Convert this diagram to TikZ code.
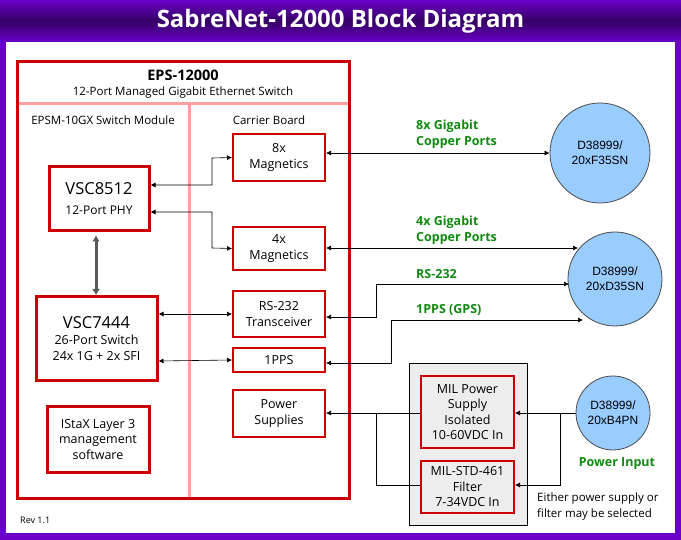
\documentclass[tikz,border=0pt]{standalone}
\usepackage{fontspec}
\setmainfont{Open Sans}
\newfontfamily\arialf{Liberation Sans}
\usetikzlibrary{arrows.meta}
\definecolor{pur}{HTML}{6A00C8}
\definecolor{dred}{HTML}{CC0000}
\definecolor{pink}{HTML}{FF9F9F}
\definecolor{grn}{HTML}{108A10}
\definecolor{cblue}{HTML}{99CCFF}
\begin{document}
\begin{tikzpicture}[x=1pt,y=-1pt,
  box/.style={draw=dred,line width=2pt,align=center,inner sep=0pt,font=\fontsize{12.5}{15.5}\selectfont},
  bbox/.style={draw=dred,line width=3pt,align=center,inner sep=0pt},
  conn/.style={draw=black,line width=0.6pt},
  arr/.style={conn,-{Latex[length=5pt,width=5pt]}},
  darr/.style={conn,{Latex[length=5pt,width=5pt]}-{Latex[length=5pt,width=5pt]}},
  circ/.style={circle,draw=black!70,fill=cblue,line width=0.8pt,align=center,inner sep=0pt,font=\arialf\fontsize{12}{15}\selectfont},
  glab/.style={text=grn,font=\bfseries\fontsize{12.5}{15}\selectfont,anchor=west,inner sep=0pt},
  lab/.style={font=\fontsize{11.5}{14}\selectfont,inner sep=0pt}]
\useasboundingbox (0,0) rectangle (681,540);
\fill[pur] (0,0) rectangle (681,540);
\shade[top color=pur,bottom color=pur,middle color=pur!50!black] (0,0) rectangle (681,42);
\fill[white] (6,42) rectangle (675,533);
\node[text=white,font=\bfseries\fontsize{24}{28}\selectfont] (title) at (340.5,21) {SabreNet-12000 Block Diagram};
% EPS box
\draw[pink,line width=3pt] (18,104) -- (348,104);
\draw[pink,line width=3pt] (189,104) -- (189,497);
\draw[dred,line width=3pt] (17,62) rectangle (349,498);
\node[font=\bfseries\fontsize{14.5}{17}\selectfont] (eps) at (183,75) {EPS-12000};
\node[lab] (epss) at (183,93) {12-Port Managed Gigabit Ethernet Switch};
\node[lab] (mod) at (103,120) {EPSM-10GX Switch Module};
\node[lab] (car) at (269,120) {Carrier Board};
% inner blocks
\node[bbox,minimum width=100,minimum height=64,font=\fontsize{12}{20}\selectfont] (p8512) at (99,199) {{\fontsize{16.5}{19}\selectfont VSC8512}\\12-Port PHY};
\node[bbox,minimum width=121,minimum height=84,font=\fontsize{12.5}{16}\selectfont] (p7444) at (96.5,339) {{\fontsize{16.5}{19}\selectfont VSC7444}\\26-Port Switch\\24x 1G + 2x SFI};
\node[bbox,minimum width=102,minimum height=65,font=\fontsize{12.5}{15.5}\selectfont] (istax) at (98,439.5) {IStaX Layer 3\\management\\software};
\draw[black!65,line width=3pt,{Latex[length=6pt,width=8pt]}-{Latex[length=6pt,width=8pt]}] (p8512.south -| 96,0) ++(0,3) -- (96,295) coordinate (c1);
\node[box,minimum width=92,minimum height=47] (m8) at (279,157.5) {8x\\Magnetics};
\node[box,minimum width=92,minimum height=43] (m4) at (279,248.5) {4x\\Magnetics};
\node[box,minimum width=92,minimum height=46] (rs) at (279,314) {RS-232\\Transceiver};
\node[box,minimum width=92,minimum height=24] (pps) at (279,360) {1PPS};
\node[box,minimum width=92,minimum height=47] (psu) at (279,413.5) {Power\\Supplies};
% connectors inside
\draw[darr] (150.5,185) -- (212,185) -- (212,158) -- (m8.west);
\draw[darr] (150.5,212) -- (212,212) -- (212,248) -- (m4.west);
\draw[darr] (158.5,314) -- (rs.west);
\draw[darr] (158.5,361) -- (pps.west);
% circles
\node[circ,minimum size=100] (c8) at (600,153) {D38999/\\20xF35SN};
\node[circ,minimum size=94] (c4) at (615,279) {D38999/\\20xD35SN};
\node[circ,minimum size=74] (cp) at (613,413) {D38999/\\20xB4PN};
\draw[darr] (m8.east |- 0,153) -- (c8.west);
\draw[darr] (m4.east |- 0,248) -- (578,248) coordinate (e4);
\draw[darr] (rs.east |- 0,317) -- (376,317) -- (376,284) -- (569,284) coordinate (e5);
\draw[darr] (pps.east |- 0,363) -- (391,363) -- (391,320) -- (583,320) coordinate (e6);
\node[glab] (l1) at (416,126) {8x Gigabit};
\node[glab] (l2) at (416,142) {Copper Ports};
\node[glab] (l3) at (416,222) {4x Gigabit};
\node[glab] (l4) at (416,238) {Copper Ports};
\node[glab] (l5) at (416,274) {RS-232};
\node[glab] (l6) at (416,310) {1PPS (GPS)};
% power
\draw[black,fill=black!7,line width=0.6pt] (409,363) rectangle (527,525);
\node[box,minimum width=93,minimum height=72] (mps) at (467.5,412) {MIL Power\\Supply\\Isolated\\10-60VDC In};
\node[box,minimum width=93,minimum height=52] (flt) at (467.5,487) {MIL-STD-461\\Filter\\7-34VDC In};
\draw[arr] (cp.west) -- (mps.east |- cp.west);
\draw[arr] (560,413) -- (560,485) -- (flt.east |- 0,485);
\draw[arr] (mps.west |- 0,413) -- (psu.east |- 0,413);
\draw[conn] (flt.west |- 0,485) -- (376,485) -- (376,413);
\node[text=grn,font=\bfseries\fontsize{12.5}{15}\selectfont] (pin) at (617,464) {Power Input};
\node[anchor=west,align=left,inner sep=0pt,font=\fontsize{11.5}{16}\selectfont] (note) at (537,507) {Either power supply or\\filter may be selected};
\node[anchor=west,inner sep=0pt,font=\fontsize{9}{11}\selectfont] (rev) at (20,520) {Rev 1.1};
\end{tikzpicture}
\end{document}
